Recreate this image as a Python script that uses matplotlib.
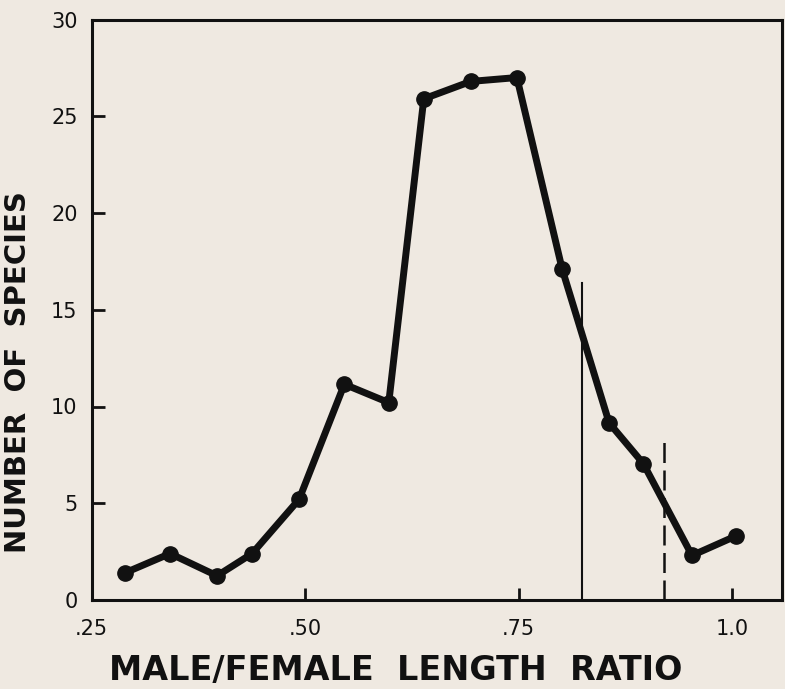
import matplotlib
matplotlib.use("Agg")
import matplotlib.pyplot as plt

ratio = [0.289, 0.342, 0.397, 0.438, 0.493, 0.546, 0.598, 0.639, 0.694,
         0.748, 0.801, 0.856, 0.896, 0.953, 1.004]
species = [1.4, 2.4, 1.25, 2.4, 5.2, 11.15, 10.2, 25.9, 26.8,
           27.0, 17.1, 9.15, 7.05, 2.3, 3.3]
solid_line = (0.824, 16.4)
dashed_line = (0.920, 8.25)
xticks = [0.25, 0.50, 0.75, 1.0]
xticklabels = [".25", ".50", ".75", "1.0"]
yticks = [0, 5, 10, 15, 20, 25, 30]
yticklabels = ["0", "5", "10", "15", "20", "25", "30"]

bg = "#efe9e1"
ink = "#111111"
fig = plt.figure(figsize=(7.85, 6.89), dpi=100, facecolor=bg)
ax = fig.add_axes([91.5 / 785, 89 / 689, 690.2 / 785, 580.5 / 689])
ax.set_facecolor(bg)

ax.plot(ratio, species, color=ink, lw=5, marker="o", ms=11,
        solid_joinstyle="round", solid_capstyle="round", zorder=3)
ax.plot([solid_line[0]] * 2, [0, solid_line[1]], color=ink, lw=1.5, zorder=2)
ax.plot([dashed_line[0]] * 2, [0, dashed_line[1]], color=ink, lw=1.8,
        dashes=(8, 3), zorder=2)

ax.set_xlim(0.25, 1.058)
ax.set_ylim(0, 30)
ax.set_xticks(xticks)
ax.set_xticklabels(xticklabels)
ax.set_yticks(yticks)
ax.set_yticklabels(yticklabels)
for s in ax.spines.values():
    s.set_linewidth(2.2)
    s.set_color(ink)
ax.tick_params(axis="both", direction="in", length=9, width=2, colors=ink,
               labelsize=15)
ax.tick_params(axis="x", pad=14)
ax.tick_params(axis="y", pad=10)
# hide tick marks at the spine corners
yt = ax.yaxis.get_major_ticks()
yt[0].tick1line.set_visible(False)
yt[-1].tick1line.set_visible(False)
ax.xaxis.get_major_ticks()[0].tick1line.set_visible(False)

ax.set_xlabel("MALE/FEMALE  LENGTH  RATIO", fontsize=24, fontweight="bold",
              color=ink)
ax.xaxis.set_label_coords(0.441, -0.122)
ax.xaxis.label.set_va("center")
ax.set_ylabel("NUMBER  OF  SPECIES", fontsize=21, fontweight="bold",
              color=ink)
ax.yaxis.set_label_coords(-0.1065, 0.393)
ax.yaxis.label.set_va("center")

fig.savefig("out.png", dpi=100, facecolor=bg)
